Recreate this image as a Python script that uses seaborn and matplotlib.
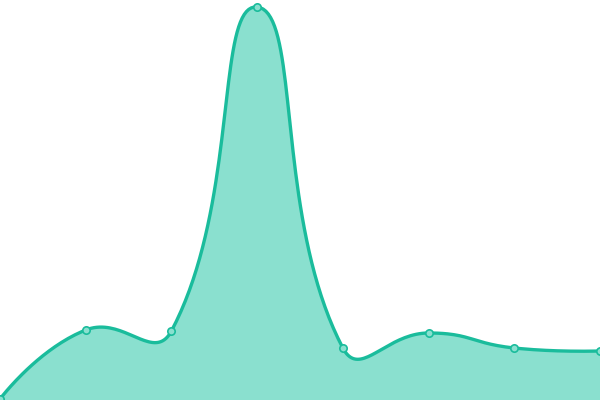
import numpy as np
import pandas as pd
import matplotlib
matplotlib.use('Agg')
import matplotlib.pyplot as plt
import seaborn as sns

# data
positions = [0, 1, 2, 3, 4, 5, 6, 7]
values = [1, 70, 69, 393, 52, 67, 52, 49]

line_color = '#1abc9c'
fill_color = '#8ae0cf'

W, H = 600, 400  # pixel box used for the smoothing


def smooth_curve(xs, ys, smooth=0.5, n=40):
    # bezier smoothing in screen space, control points scaled by segment lengths
    px = np.array(xs, float) * W / (len(xs) - 1)
    py = np.array(ys, float) * H / 400
    m = len(px)
    cps = []
    for i in range(m):
        if i == 0 or i == m - 1:
            cps.append(((px[i], py[i]), (px[i], py[i])))
            continue
        vx, vy = px[i + 1] - px[i - 1], py[i + 1] - py[i - 1]
        l0 = np.hypot(px[i] - px[i - 1], py[i] - py[i - 1])
        l1 = np.hypot(px[i + 1] - px[i], py[i + 1] - py[i])
        r = l1 / (l0 + l1)
        before = (px[i] - vx * smooth * (1 - r), py[i] - vy * smooth * (1 - r))
        after = (px[i] + vx * smooth * r, py[i] + vy * smooth * r)
        cps.append((before, after))
    cx, cy = [], []
    t = np.linspace(0, 1, n, endpoint=False)
    b0, b1, b2, b3 = (1 - t) ** 3, 3 * (1 - t) ** 2 * t, 3 * (1 - t) * t ** 2, t ** 3
    for i in range(m - 1):
        c1 = cps[i][1]
        c2 = cps[i + 1][0]
        cx.extend(b0 * px[i] + b1 * c1[0] + b2 * c2[0] + b3 * px[i + 1])
        cy.extend(b0 * py[i] + b1 * c1[1] + b2 * c2[1] + b3 * py[i + 1])
    cx.append(px[-1])
    cy.append(py[-1])
    return np.array(cx) * (len(xs) - 1) / W, np.array(cy) * 400 / H


sns.set_style('white')
fig = plt.figure(figsize=(6, 4), dpi=100)
ax = fig.add_axes([0, 0, 1, 1])

sx, sy = smooth_curve(positions, values)
curve = pd.DataFrame({'x': sx, 'y': sy})
ax.fill_between(curve['x'], 0, curve['y'], color=fill_color, linewidth=0)
sns.lineplot(data=curve, x='x', y='y', ax=ax, color=line_color,
             linewidth=2.4, sort=False, estimator=None)

pts = pd.DataFrame({'x': positions, 'y': values})
sns.scatterplot(data=pts, x='x', y='y', ax=ax, s=28, color=fill_color,
                edgecolor=line_color, linewidth=1.2, zorder=5)

ax.set_xlim(0, 7)
ax.set_ylim(0, 400)
ax.axis('off')

fig.savefig('out.png', dpi=100)
